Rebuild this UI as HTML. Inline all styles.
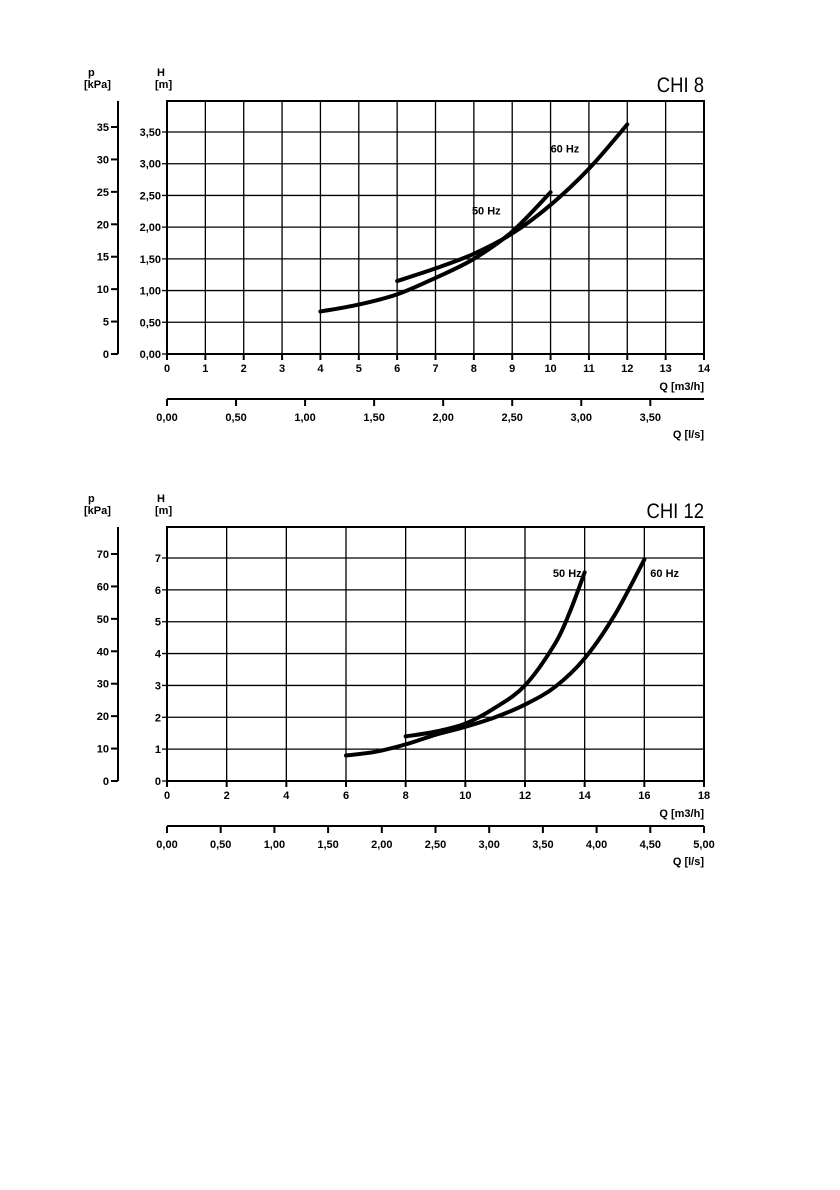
<!DOCTYPE html>
<html><head><meta charset="utf-8"><style>
html,body{margin:0;padding:0;background:#fff;}
svg{display:block;font-family:"Liberation Sans",sans-serif;}
</style></head><body>
<svg id="svg" width="840" height="1190" viewBox="0 0 840 1190" xmlns="http://www.w3.org/2000/svg"></svg>
<script>
// ---- CHI 8 data ----
const chi8X = [0,1,2,3,4,5,6,7,8,9,10,11,12,13,14];
const chi8HTicks = [0,0.5,1,1.5,2,2.5,3,3.5];
const chi8HLabels = ["0,00","0,50","1,00","1,50","2,00","2,50","3,00","3,50"];
const chi8PTicks = [0,5,10,15,20,25,30,35];
const chi8LsTicks = [0,0.5,1,1.5,2,2.5,3,3.5];
const chi8LsLabels = ["0,00","0,50","1,00","1,50","2,00","2,50","3,00","3,50"];
const chi8Q50 = [4,5,6,7,8,9,10];
const chi8H50 = [0.67,0.78,0.94,1.2,1.5,1.93,2.55];
const chi8Q60 = [6,7,8,9,10,11,12];
const chi8H60 = [1.15,1.35,1.58,1.9,2.35,2.92,3.62];
// ---- CHI 12 data ----
const chi12X = [0,2,4,6,8,10,12,14,16,18];
const chi12HTicks = [0,1,2,3,4,5,6,7];
const chi12HLabels = ["0","1","2","3","4","5","6","7"];
const chi12PTicks = [0,10,20,30,40,50,60,70];
const chi12LsTicks = [0,0.5,1,1.5,2,2.5,3,3.5,4,4.5,5];
const chi12LsLabels = ["0,00","0,50","1,00","1,50","2,00","2,50","3,00","3,50","4,00","4,50","5,00"];
const chi12Q50 = [8,9,10,11,12,13,13.5,14];
const chi12H50 = [1.4,1.55,1.8,2.3,3.0,4.3,5.3,6.55];
const chi12Q60 = [6,7,8,9,10,11,12,13,14,15,16];
const chi12H60 = [0.8,0.92,1.15,1.45,1.7,2.0,2.4,2.95,3.85,5.2,6.95];

const NS="http://www.w3.org/2000/svg";
const svg=document.getElementById('svg');
function mk(tag,attrs,parent,text){const e=document.createElementNS(NS,tag);for(const k in attrs)e.setAttribute(k,attrs[k]);if(text!==undefined)e.textContent=text;(parent||svg).appendChild(e);return e;}
function smooth(pts){let d=`M${pts[0][0]},${pts[0][1]}`;for(let i=0;i<pts.length-1;i++){const p0=pts[i-1]||pts[i],p1=pts[i],p2=pts[i+1],p3=pts[i+2]||p2;const c1=[p1[0]+(p2[0]-p0[0])/6,p1[1]+(p2[1]-p0[1])/6],c2=[p2[0]-(p3[0]-p1[0])/6,p2[1]-(p3[1]-p1[1])/6];d+=` C${c1[0]},${c1[1]} ${c2[0]},${c2[1]} ${p2[0]},${p2[1]}`;}return d;}

function chart(o){
  const g=mk('g',{});
  
  
  const L=167,R=704,xMax=o.xTicks[o.xTicks.length-1];
  const sx=v=>L+(R-L)*v/xMax;
  const sy=v=>o.y0-(o.y0-o.yTop)*v/o.hRef;
  const sp=v=>o.y0-(o.y0-o.pTop)*v/o.pRef;
  // grid
  const grid=mk('g',{stroke:'#000','stroke-width':1.3},g);
  
  o.xTicks.forEach(v=>mk('line',{x1:sx(v),x2:sx(v),y1:o.top,y2:o.y0},grid));
  o.hTicks.forEach(v=>mk('line',{x1:L-5,x2:R,y1:sy(v),y2:sy(v)},grid));
  const fr=mk('rect',{x:L,y:o.top,width:R-L,height:o.y0-o.top,fill:'none',stroke:'#000','stroke-width':2},g);
  
  // H labels
  o.hTicks.forEach((v,i)=>{const t=mk('text',{x:L-6,y:sy(v)+4,'text-anchor':'end','font-size':11,'font-weight':'bold'},g,o.hLabels[i]);});
  // p axis
  const pa=mk('line',{x1:118,x2:118,y1:o.top,y2:o.y0,stroke:'#000','stroke-width':2},g);
  
  o.pTicks.forEach(v=>{mk('line',{x1:111,x2:118,y1:sp(v),y2:sp(v),stroke:'#000','stroke-width':2},g);const t=mk('text',{x:109,y:sp(v)+4,'text-anchor':'end','font-size':11,'font-weight':'bold'},g,String(v));});
  // axis titles
  [['p',88,o.top-25],['[kPa]',84,o.top-13],['H',157,o.top-25],['[m]',155,o.top-13]].forEach(a=>{const t=mk('text',{x:a[1],y:a[2],'font-size':11,'font-weight':'bold'},g,a[0]);});
  const ti=mk('text',{x:R,y:o.top-9,'text-anchor':'end','font-size':21,transform:`translate(${R*0.12},0) scale(0.88,1)`,'text-rendering':'geometricPrecision'},g,o.title);
  
  // x tick labels
  o.xTicks.forEach(v=>{mk('line',{x1:sx(v),x2:sx(v),y1:o.y0,y2:o.y0+6,stroke:'#000','stroke-width':2},g);const t=mk('text',{x:sx(v),y:o.y0+18,'text-anchor':'middle','font-size':11,'font-weight':'bold'},g,String(v));});
  const qt=mk('text',{x:R,y:o.y0+36,'text-anchor':'end','font-size':11,'font-weight':'bold','xml:space':'preserve'},g,'Q  [m3/h]');
  
  // l/s axis
  const ly=o.y0+45;
  const lsMax=xMax/3.6;
  const sl=v=>L+(R-L)*v/lsMax;
  const la=mk('line',{x1:L,x2:R,y1:ly,y2:ly,stroke:'#000','stroke-width':2},g);
  
  o.lsTicks.forEach((v,i)=>{mk('line',{x1:sl(v),x2:sl(v),y1:ly,y2:ly+7,stroke:'#000','stroke-width':2},g);const t=mk('text',{x:sl(v),y:ly+22,'text-anchor':'middle','font-size':11,'font-weight':'bold'},g,o.lsLabels[i]);});
  const lt=mk('text',{x:R,y:ly+39,'text-anchor':'end','font-size':11,'font-weight':'bold','xml:space':'preserve'},g,'Q  [l/s]');
  
  // curves
  o.series.forEach(s=>{
    const pts=s.q.map((q,i)=>[sx(q),sy(s.h[i])]);
    const p=mk('path',{d:smooth(pts),fill:'none',stroke:'#000','stroke-width':4,'stroke-linecap':'round'},g);
    
    const t=mk('text',{x:sx(s.lx),y:sy(s.ly),'font-size':11,'font-weight':'bold','xml:space':'preserve','text-anchor':s.anchor||'start'},g,s.label);
    
  });
}
chart({name:'chi-8-chart',title:'CHI 8',top:101,y0:354,yTop:132,hRef:3.5,pTop:127,pRef:35,
  xTicks:chi8X,hTicks:chi8HTicks,hLabels:chi8HLabels,pTicks:chi8PTicks,lsTicks:chi8LsTicks,lsLabels:chi8LsLabels,
  series:[{name:'curve-50hz',q:chi8Q50,h:chi8H50,label:'50  Hz',lx:7.95,ly:2.2},
          {name:'curve-60hz',q:chi8Q60,h:chi8H60,label:'60  Hz',lx:10,ly:3.18}]});
chart({name:'chi-12-chart',title:'CHI 12',top:527,y0:781,yTop:558,hRef:7,pTop:554,pRef:70,
  xTicks:chi12X,hTicks:chi12HTicks,hLabels:chi12HLabels,pTicks:chi12PTicks,lsTicks:chi12LsTicks,lsLabels:chi12LsLabels,
  series:[{name:'curve-50hz',q:chi12Q50,h:chi12H50,label:'50  Hz',lx:13.9,ly:6.4,anchor:'end'},
          {name:'curve-60hz',q:chi12Q60,h:chi12H60,label:'60  Hz',lx:16.2,ly:6.4}]});
</script>
</body></html>
